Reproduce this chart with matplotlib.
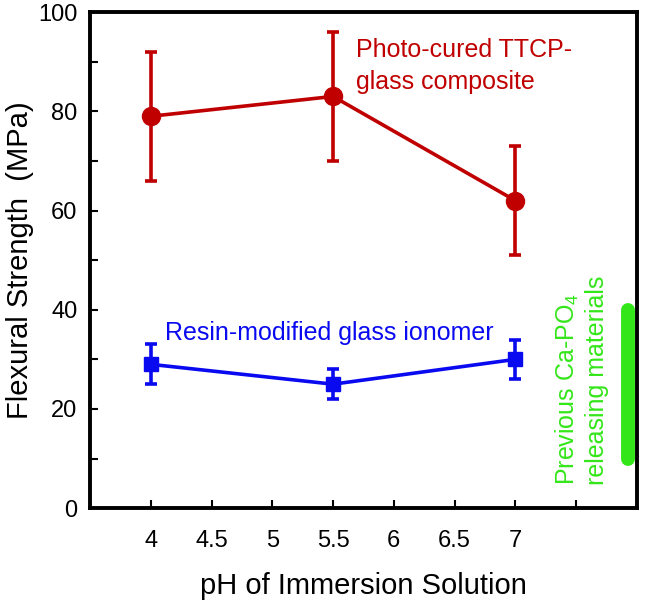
import matplotlib
matplotlib.use("Agg")
import matplotlib.pyplot as plt

plt.rcParams['font.family'] = ['Liberation Sans', 'DejaVu Sans']
plt.rcParams['mathtext.fontset'] = 'custom'
plt.rcParams['mathtext.rm'] = 'Liberation Sans'
plt.rcParams['mathtext.it'] = 'Liberation Sans'

# Data
ph = [4, 5.5, 7]
ttcp_mean = [79, 83, 62]
ttcp_err = [13, 13, 11]
rmgi_mean = [29, 25, 30]
rmgi_err = [4, 3, 4]
prev_x = 7.93
prev_range = [10, 40]
xtick_vals = [4, 4.5, 5, 5.5, 6, 6.5, 7, 7.5]
xtick_labels = ['4', '4.5', '5', '5.5', '6', '6.5', '7', '']

red = '#C00000'
blue = '#0A0AF0'
green = '#33E619'

fig = plt.figure(figsize=(6.45, 6.05), dpi=100)
ax = fig.add_axes([0.1395, 0.160, 0.848, 0.820])

ax.errorbar(ph, ttcp_mean, yerr=ttcp_err, color=red, marker='o', markersize=13,
            lw=2.6, elinewidth=2.6, capsize=4.5, capthick=2.6)
ax.errorbar(ph, rmgi_mean, yerr=rmgi_err, color=blue, marker='s', markersize=10.5,
            lw=2.6, elinewidth=2.6, capsize=4.5, capthick=2.6)
ax.plot([prev_x, prev_x], prev_range, color=green, lw=10, solid_capstyle='round')

ax.text(5.69, 92.3, 'Photo-cured TTCP-', color=red, fontsize=18, ha='left', va='center')
ax.text(5.69, 86.0, 'glass composite', color=red, fontsize=18, ha='left', va='center')
ax.text(4.12, 35.3, 'Resin-modified glass ionomer', color=blue, fontsize=18, ha='left', va='center')
ax.text(7.43, 4.6, 'Previous Ca-PO$_4$', color=green, fontsize=18, rotation=90,
        ha='center', va='bottom')
ax.text(7.67, 4.6, 'releasing materials', color=green, fontsize=18, rotation=90,
        ha='center', va='bottom')

ax.set_xlim(3.5, 8.0)
ax.set_ylim(0, 100)
ax.set_xticks(xtick_vals)
ax.set_xticklabels(xtick_labels)
ax.set_yticks([0, 20, 40, 60, 80, 100])
ax.set_yticks([10, 30, 50, 70, 90], minor=True)
ax.tick_params(axis='both', which='both', direction='in', labelsize=17, width=1.5, pad=9)
ax.tick_params(which='major', length=6)
ax.tick_params(which='minor', length=6)
ax.tick_params(axis='x', pad=16)
for s in ax.spines.values():
    s.set_linewidth(2.8)

ax.set_xlabel('pH of Immersion Solution', fontsize=21, labelpad=14)
ax.set_ylabel('Flexural Strength  (MPa)', fontsize=21, labelpad=3)

fig.savefig('out.png', dpi=100)
